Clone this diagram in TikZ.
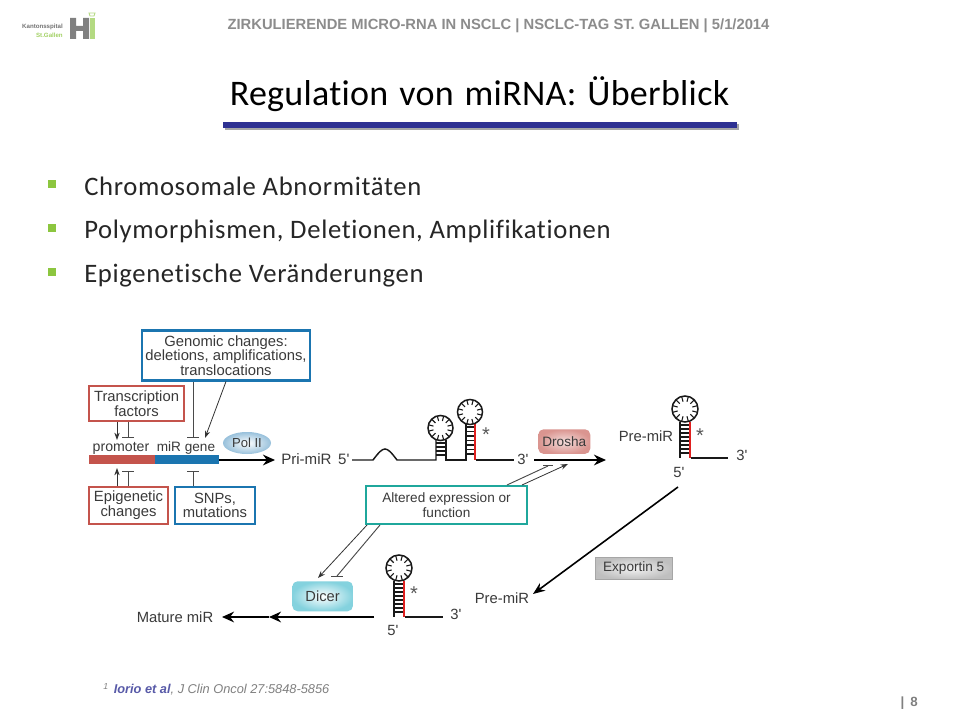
\documentclass[tikz,border=0pt]{standalone}
\usepackage{fontspec}
\setmainfont{Carlito}
\newfontfamily\arialf{Liberation Sans}
\newfontfamily\bulf[LetterSpace=2.5,Ligatures=NoCommon]{Carlito}
\newfontfamily\titlef[LetterSpace=0.8,Ligatures=NoCommon,WordSpace=1.3]{Carlito}
\usetikzlibrary{arrows.meta,shadings,shapes.geometric,calc}
\definecolor{txt}{HTML}{3A3A3A}
\definecolor{boxred}{HTML}{C4544C}
\definecolor{boxblue}{HTML}{1B75B0}
\definecolor{boxteal}{HTML}{1FA79C}
\definecolor{navy}{HTML}{2E3192}
\definecolor{bulgreen}{HTML}{8CC63F}
\definecolor{hairred}{HTML}{E0201F}
\definecolor{linkgrey}{HTML}{4A4A4A}
\definecolor{dicerout}{HTML}{84D2DE}
\newcommand\dfont{\arialf\fontsize{10.2}{11}\selectfont}
\newcommand\efont{\arialf\fontsize{11.1}{11}\selectfont}
\tikzset{
  x=0.75pt,y=-0.75pt,
  lbl/.style={inner sep=0pt,font=\efont,text=txt,align=center},
  starl/.style={inner sep=0pt,font=\arialf\fontsize{15}{15}\selectfont,text=black!65},
  box/.style={draw,line width=2.1pt,outer sep=0pt,fill=white,inner sep=0pt,font=\efont,text=txt,align=center,anchor=north west},
  bultext/.style={anchor=west,inner sep=0pt,font=\bulf\fontsize{20}{22}\selectfont,text=black!85},
  bulmark/.style={fill=bulgreen,minimum size=5.8pt,inner sep=0pt},
  tbar/.style={line width=.7pt,draw=linkgrey,{Bar[width=9pt,line width=.6pt]}-},
  thin arrow/.style={line width=.6pt,draw=black!80,-{Stealth[length=5.5pt,width=4pt]}},
  thick arrow/.style={line width=1.6pt,black,-{Stealth[length=9pt,width=8pt]}},
  strand/.style={line width=1.1pt,black!90},
  rung/.style={line width=1pt,black!90},
  redstrand/.style={line width=1.7pt,hairred},
}
\newcommand\loopc[3]{%
  \draw[line width=1.15pt,black!90,fill=white] (#1,#2) circle[radius=#3];
  \foreach \a in {15,45,...,345} {\draw[line width=.8pt,black!90] ($(#1,#2)+(\a:0.58*#3*0.75pt)$) -- ($(#1,#2)+(\a:#3*0.75pt)$);}
}
\begin{document}
\begin{tikzpicture}
\useasboundingbox (0,0) rectangle (960,720);
\fill[white] (0,0) rectangle (960,720);

% logo
\node[inner sep=0pt,anchor=east,font=\arialf\fontsize{4.6}{5}\selectfont\bfseries,text=black!55] (logoa) at (63,27) {Kantonsspital};
\node[inner sep=0pt,anchor=east,font=\arialf\fontsize{4.6}{5}\selectfont\bfseries,text=bulgreen!80] (logob) at (63,35) {St.Gallen};
\fill[black!50] (70,18) rectangle (76,39) (83,18) rectangle (89,39) (76,26) rectangle (83,31);
\fill[bulgreen!65] (90,18) rectangle (95,39);
\draw[bulgreen!65,line width=.6pt] (89,13) -- (95,13) -- (94,16) -- (90,16) -- cycle;

% header
\node[inner sep=0pt,font=\arialf\fontsize{11.07}{13}\selectfont\bfseries,text=black!45] (head) at (498.5,26) {ZIRKULIERENDE MICRO-RNA IN NSCLC | NSCLC-TAG ST. GALLEN | 5/1/2014};

% title
\node[inner sep=0pt,font=\titlef\fontsize{27}{30}\selectfont,text=black] (title) at (479.5,94) {Regulation von miRNA: Überblick};
\fill[black!35] (225,124) rectangle (739,130);
\fill[navy] (223,122) rectangle (737,128);

% bullets
\node[bulmark] (b1) at (52,184) {};
\node[bultext] (t1) at (84,186) {Chromosomale Abnormitäten};
\node[bulmark] (b2) at (52,228) {};
\node[bultext] (t2) at (84,231) {Polymorphismen, Deletionen, Amplifikationen};
\node[bulmark] (b3) at (52,272) {};
\node[bultext] (t3) at (84,276) {Epigenetische Veränderungen};

% boxes left
\node[box,draw=boxblue,minimum width=126pt,minimum height=37.5pt] (genomic) at (142,330.5) {Genomic changes:\\deletions, amplifications,\\translocations};
\node[box,draw=boxred,minimum width=71.25pt,minimum height=26.25pt] (transc) at (89,386) {Transcription\\factors};
\node[box,draw=boxred,minimum width=59.25pt,minimum height=27.75pt] (epi) at (89,487) {Epigenetic\\changes};
\node[box,draw=boxblue,minimum width=60pt,minimum height=27.75pt] (snp) at (175,487) {SNPs,\\mutations};

% gene bar
\fill[boxred] (89,455) rectangle (155,464);
\fill[boxblue] (155,455) rectangle (219,464);
\coordinate (barend) at (219,460);
\coordinate (primtip) at (275,460);
\draw[thick arrow] (barend) -- (primtip);
\node[lbl,font=\arialf\fontsize{10.6}{11}\selectfont] (prom) at (121,448) {promoter};
\node[lbl,font=\dfont] (mirgene) at (186,448) {miR gene};
\node[ellipse,inner sep=0pt,minimum width=36pt,minimum height=16.5pt,shade,inner color=white,outer color=boxblue!45,font=\arialf\fontsize{9.8}{11}\selectfont,text=txt] (pol) at (247,443) {Pol II};

% connectors left
\coordinate (p1) at (117,440); \coordinate (p1s) at (117,422);
\coordinate (p2) at (128,438); \coordinate (p2s) at (128,422);
\coordinate (g1) at (193,438); \coordinate (g1s) at (193,381.5);
\coordinate (g2) at (205,438); \coordinate (g2s) at (226,381.5);
\coordinate (e1) at (117,468); \coordinate (e1s) at (117,486);
\coordinate (e2) at (128,471); \coordinate (e2s) at (128,486);
\coordinate (s1) at (193,471); \coordinate (s1s) at (193,486);
\draw[thin arrow] (p1s) -- (p1);
\draw[tbar] (p2) -- (p2s);
\draw[tbar] (g1) -- (g1s);
\draw[thin arrow] (g2s) -- (g2);
\draw[thin arrow] (e1s) -- (e1);
\draw[tbar] (e2) -- (e2s);
\draw[tbar] (s1) -- (s1s);

% pri-miR
\node[lbl,anchor=west,font=\arialf\fontsize{11.3}{12}\selectfont] (pri) at (281,459) {Pri-miR\, 5'};
\draw[strand] (352,460) -- (373,460) .. controls (379,452) and (382,449) .. (385,449) .. controls (388,449) and (391,452) .. (397,460) -- (436,460) -- (436,440);
\draw[strand] (446,440) -- (446,460) -- (466,460) -- (466,424);
\foreach \yy in {443,447,451,455} {\draw[rung] (436,\yy) -- (446,\yy);}
\loopc{440.5}{428}{12.5}
\foreach \yy in {427,431.5,436,440.5,445,449.5,454} {\draw[rung] (466,\yy) -- (475,\yy);}
\draw[redstrand] (475,424) -- (475,460);
\draw[strand] (475.5,460) -- (514,460);
\loopc{470}{412}{12.5}
\node[starl] (st1) at (486,435) {*};
\node[lbl] (tp1) at (523,459) {3'};

% drosha
\coordinate (dl) at (534,460);
\coordinate (dr) at (606,460);
\draw[thick arrow] (dl) -- (dr);
\node[anchor=north west,rounded corners=4pt,minimum width=39pt,minimum height=18.5pt,inner sep=0pt,shade,inner color=boxred!20!white,outer color=boxred!62!white,font=\dfont,text=txt] (drosha) at (538,429) {Drosha};

% pre-miR upper
\foreach \yy in {425,429,433,437,441,445,449,453} {\draw[rung] (680,\yy) -- (690,\yy);}
\draw[strand] (680,422) -- (680,458);
\draw[redstrand] (690,422) -- (690,458);
\draw[strand] (690.5,458) -- (728,458);
\loopc{685}{409}{13}
\node[lbl] (premup) at (646,436) {Pre-miR};
\node[starl] (st2) at (700,436) {*};
\node[lbl] (tp2) at (742,455) {3'};
\node[lbl] (fp2) at (679,472) {5'};

% altered box
\node[box,draw=boxteal,minimum width=120.75pt,minimum height=28.5pt,font=\dfont] (alter) at (366,486) {Altered expression or\\[0.4pt]function};
\coordinate (a1s) at (507,485); \coordinate (a1) at (548,466);
\coordinate (a2s) at (522,485); \coordinate (a2) at (568,464);
\draw[line width=.7pt,draw=linkgrey] (a1s) -- (a1);
\draw[line width=.6pt,draw=linkgrey] (543,465) -- (553,465);
\draw[thin arrow] (a2s) -- (a2);
\coordinate (a3s) at (367,525); \coordinate (a3) at (318,578);
\coordinate (a4s) at (380,525); \coordinate (a4) at (337,576);
\draw[thin arrow] (a3s) -- (a3);
\draw[line width=.7pt,draw=linkgrey] (a4s) -- (a4);
\draw[line width=.6pt,draw=linkgrey] (331,576) -- (343,576);

% exportin
\coordinate (ex1) at (678,487); \coordinate (ex2) at (533,594);
\draw[line width=1.2pt,black,-{Stealth[length=9pt,width=7pt]}] (ex1) -- (ex2);
\node[anchor=north west,draw=black!35,line width=.8pt,minimum width=58pt,minimum height=17pt,inner sep=0pt,shade,inner color=black!5,outer color=black!25,font=\dfont,text=txt] (export) at (594.5,556.5) {Exportin 5};
\node[lbl] (premlo) at (502,598) {Pre-miR};

% lower hairpin
\foreach \yy in {584,588,592,596,600,604,608,612} {\draw[rung] (394,\yy) -- (404,\yy);}
\draw[strand] (394,581) -- (394,617);
\draw[redstrand] (404,581) -- (404,617);
\draw[strand] (404.5,617) -- (443,617);
\loopc{399}{568}{13}
\node[starl] (st3) at (414,594) {*};
\node[lbl] (tp3) at (456,614) {3'};
\node[lbl] (fp3) at (393,630) {5'};

% dicer
\coordinate (m1) at (374,617); \coordinate (m2) at (269,617); \coordinate (m3) at (222,617);
\draw[line width=1.8pt,black,-{Stealth[length=9pt,width=8pt]}] (m1) -- (m2);
\draw[line width=1.8pt,black,-{Stealth[length=9pt,width=8pt]}] (m2) -- (m3);
\node[anchor=north west,rounded corners=4pt,minimum width=45.5pt,minimum height=22.5pt,inner sep=0pt,shade,inner color=white,outer color=dicerout,font=\arialf\fontsize{11}{12}\selectfont,text=txt] (dicer) at (292,581) {Dicer};
\node[lbl] (mature) at (175,617) {Mature miR};

% footnote
\node[anchor=west,inner sep=0pt,font=\arialf\fontsize{9.6}{11}\selectfont\itshape,text=black!50] (foot) at (103,689) {\raisebox{3pt}{\fontsize{6.5}{7}\selectfont 1}\, {\bfseries\color{navy!80}Iorio et al}, J Clin Oncol 27:5848-5856};
\node[anchor=east,inner sep=0pt,font=\arialf\fontsize{10}{12}\selectfont\bfseries,text=black!50] (page) at (918,703) {|\, 8};
\end{tikzpicture}
\end{document}
